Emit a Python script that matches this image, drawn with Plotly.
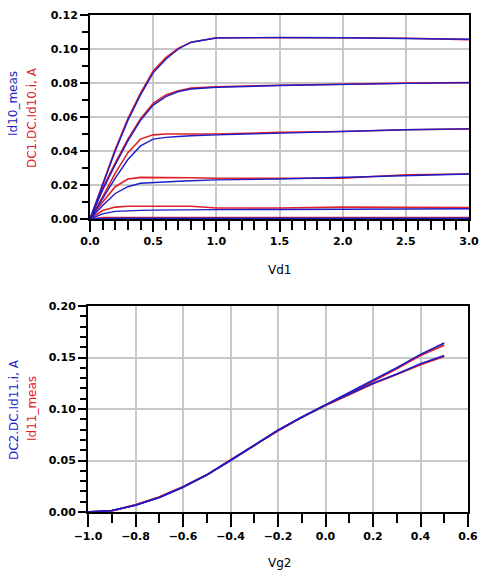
import plotly.graph_objects as go

# ---- Output characteristics (Id vs Vd), one model/measured pair per gate bias ----
vd1 = [0.0, 0.1, 0.2, 0.3, 0.4, 0.5, 0.6, 0.7, 0.8, 1.0, 1.5, 2.0, 2.5, 3.0]

id10_model = [
    [0.0, 0.020, 0.040, 0.058, 0.073, 0.086, 0.094, 0.100, 0.104, 0.1065, 0.1068, 0.1066, 0.1062, 0.1057],
    [0.0, 0.017, 0.032, 0.046, 0.058, 0.067, 0.072, 0.075, 0.0765, 0.0775, 0.0785, 0.0793, 0.0798, 0.0802],
    [0.0, 0.012, 0.024, 0.035, 0.043, 0.047, 0.048, 0.0485, 0.049, 0.0495, 0.0505, 0.0515, 0.0525, 0.0530],
    [0.0, 0.008, 0.015, 0.019, 0.021, 0.0215, 0.022, 0.0222, 0.0225, 0.023, 0.0235, 0.0245, 0.0255, 0.0265],
    [0.0, 0.003, 0.0045, 0.005, 0.0051, 0.0052, 0.0053, 0.0053, 0.0054, 0.0055, 0.0056, 0.0058, 0.0059, 0.0060],
    [0.0, 0.0003, 0.0004, 0.0004, 0.0004, 0.0004, 0.0004, 0.0004, 0.0004, 0.0004, 0.0004, 0.0004, 0.0004, 0.0004],
]
id10_meas = [
    [0.0, 0.021, 0.041, 0.059, 0.074, 0.087, 0.095, 0.1005, 0.104, 0.1066, 0.1068, 0.1066, 0.1063, 0.1055],
    [0.0, 0.018, 0.033, 0.047, 0.059, 0.068, 0.073, 0.0755, 0.077, 0.0778, 0.0787, 0.0795, 0.0799, 0.0802],
    [0.0, 0.013, 0.027, 0.039, 0.047, 0.0495, 0.050, 0.050, 0.050, 0.0500, 0.0510, 0.0515, 0.0525, 0.0530],
    [0.0, 0.010, 0.019, 0.0235, 0.0245, 0.0245, 0.0245, 0.0245, 0.0243, 0.0240, 0.0238, 0.0240, 0.0260, 0.0265],
    [0.0, 0.005, 0.007, 0.0075, 0.0075, 0.0075, 0.0075, 0.0075, 0.0075, 0.0065, 0.0065, 0.0070, 0.0070, 0.0068],
    [0.0, 0.0008, 0.0009, 0.0009, 0.0009, 0.0009, 0.0009, 0.0009, 0.0009, 0.0009, 0.0009, 0.0009, 0.0009, 0.0009],
]

# ---- Transfer characteristics (Id vs Vg) at two drain biases ----
vg2 = [-1.0, -0.9, -0.8, -0.7, -0.6, -0.5, -0.4, -0.3, -0.2, -0.1, 0.0, 0.1, 0.2, 0.3, 0.4, 0.5]
id11_model = [
    [0.0, 0.0015, 0.0065, 0.014, 0.024, 0.036, 0.050, 0.065, 0.0795, 0.092, 0.104, 0.116, 0.128, 0.140, 0.153, 0.164],
    [0.0, 0.0015, 0.0065, 0.014, 0.024, 0.036, 0.050, 0.065, 0.0795, 0.092, 0.104, 0.1145, 0.125, 0.134, 0.144, 0.152],
]
id11_meas = [
    [0.0, 0.0010, 0.0070, 0.0145, 0.0245, 0.036, 0.0505, 0.065, 0.0790, 0.092, 0.1035, 0.1155, 0.127, 0.139, 0.152, 0.162],
    [0.0, 0.0010, 0.0070, 0.0145, 0.0245, 0.036, 0.0505, 0.065, 0.0790, 0.092, 0.1035, 0.1140, 0.1245, 0.1335, 0.143, 0.151],
]

BLUE = "#1c1cc8"
RED = "#e0202a"
W, H = 480, 575

fig = go.Figure()

for meas in id10_meas:
    fig.add_trace(go.Scatter(x=vd1, y=meas, mode="lines", line=dict(color=RED, width=1.6),
                             xaxis="x", yaxis="y", showlegend=False))
for mod in id10_model:
    fig.add_trace(go.Scatter(x=vd1, y=mod, mode="lines", line=dict(color=BLUE, width=1.4),
                             xaxis="x", yaxis="y", showlegend=False))
for meas in id11_meas:
    fig.add_trace(go.Scatter(x=vg2, y=meas, mode="lines", line=dict(color=RED, width=1.8),
                             xaxis="x2", yaxis="y2", showlegend=False))
for mod in id11_model:
    fig.add_trace(go.Scatter(x=vg2, y=mod, mode="lines", line=dict(color=BLUE, width=1.6),
                             xaxis="x2", yaxis="y2", showlegend=False))

tickfont = dict(family="DejaVu Sans", size=11, color="black", weight="bold")


def axis_style(rng, dtick, minor_dtick, fmt, domain, anchor, tlen, mlen):
    return dict(
        range=rng, dtick=dtick, tick0=rng[0], tickformat=fmt, domain=domain, anchor=anchor,
        showline=True, linecolor="black", linewidth=2, mirror=True,
        showgrid=True, gridcolor="#c8c8c8", gridwidth=1.5, zeroline=False,
        ticks="outside", ticklen=tlen, tickwidth=2, tickcolor="black",
        minor=dict(dtick=minor_dtick, ticks="outside", ticklen=mlen, tickwidth=1.5,
                   tickcolor="black", showgrid=False),
        tickfont=tickfont, automargin=False,
    )


fig.update_layout(
    width=W, height=H, autosize=False,
    margin=dict(l=0, r=0, t=0, b=0),
    paper_bgcolor="white", plot_bgcolor="white",
    xaxis=axis_style([0, 3.0], 0.5, 0.1, ".1f", [90 / W, 469 / W], "y", 11, 9),
    yaxis=axis_style([0, 0.12], 0.02, 0.01, ".2f", [1 - 219 / H, 1 - 15 / H], "x", 8, 6),
    xaxis2=axis_style([-1.0, 0.6], 0.2, 0.1, ".1f", [88 / W, 468 / W], "y2", 13, 9),
    yaxis2=axis_style([0, 0.20], 0.05, 0.01, ".2f", [1 - 512 / H, 1 - 306 / H], "x2", 8, 6),
)

labfont = dict(family="DejaVu Sans", size=12)


def label(text, px, py, color, angle=0):
    fig.add_annotation(text=text, x=px / W, y=1 - py / H, xref="paper", yref="paper",
                       showarrow=False, textangle=angle, xanchor="center", yanchor="middle",
                       font=dict(labfont, color=color))


label("Vd1", 279, 270, "black")
label("Vg2", 279, 563, "black")
label("Id10_meas", 13, 104, BLUE, -90)
label("DC1.DC.Id10.i, A", 32, 118, RED, -90)
label("DC2.DC.Id11.i, A", 14, 410, BLUE, -90)
label("Id11_meas", 32, 409, RED, -90)

fig.write_html("out.html")
